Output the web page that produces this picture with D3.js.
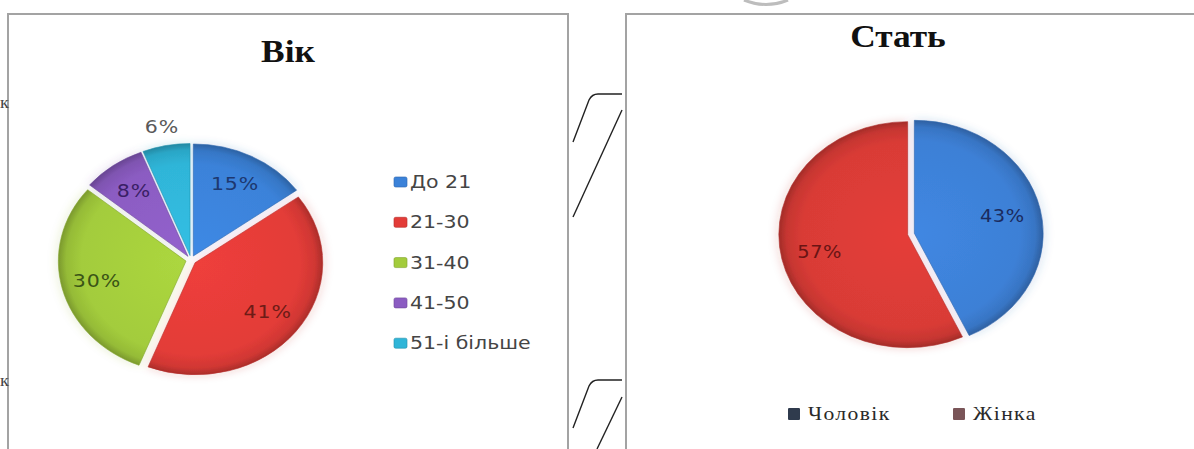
<!DOCTYPE html>
<html>
<head>
<meta charset="utf-8">
<script src="https://cdn.jsdelivr.net/npm/d3@7"></script>
<style>
  html, body { margin: 0; padding: 0; background: #fff; overflow: hidden; }
</style>
</head>
<body>
<svg id="chart"></svg>
<script>
// ---- data ----
const ageTitle = "Вік";
const ageCategories = ["До 21", "21-30", "31-40", "41-50", "51-і більше"];
const ageValues = [15, 41, 30, 8, 6];
const ageColors = ["#3b82d9", "#e33c38", "#a3cc3c", "#8b5cc2", "#2fb5d8"];
const ageLabelColors = ["#1d3870", "#6e1b16", "#3a5416", "#3a1f66", "#5a5a5a"];

const sexTitle = "Стать";
const sexCategories = ["Чоловік", "Жінка"];
const sexValues = [43, 57];
const sexColors = ["#3d80d6", "#d93b36"];
const sexLabelColors = ["#1b2b5e", "#6a1414"];
const sexLegendColors = ["#2f3b4d", "#7a5558"];

// ---- canvas (content is drawn slightly widened horizontally) ----
const W = 1194, H = 449, SX = 1.14;
const X = x => x / SX;
const svg = d3.select("#chart")
  .attr("width", W).attr("height", H)
  .attr("viewBox", `0 0 ${W / SX} ${H}`)
  .attr("preserveAspectRatio", "none");
const defs = svg.append("defs");

// soft glow under the pies
const glow = defs.append("filter").attr("id", "glow")
  .attr("x", "-20%").attr("y", "-20%").attr("width", "140%").attr("height", "140%");
glow.append("feGaussianBlur").attr("in", "SourceGraphic").attr("stdDeviation", 5).attr("result", "b");
glow.append("feComponentTransfer").attr("in", "b").attr("result", "bf")
  .append("feFuncA").attr("type", "linear").attr("slope", 0.22);
const gm = glow.append("feMerge");
gm.append("feMergeNode").attr("in", "bf");
gm.append("feMergeNode").attr("in", "SourceGraphic");

const soft = defs.append("filter").attr("id", "soft");
soft.append("feGaussianBlur").attr("stdDeviation", 0.5);

// ---- panel frames ----
svg.append("rect").attr("x", X(8)).attr("y", 14).attr("width", X(560)).attr("height", 520)
  .attr("fill", "#fff").attr("stroke", "#a3a3a3").attr("stroke-width", 2)
  .attr("vector-effect", "non-scaling-stroke");
svg.append("rect").attr("x", X(626)).attr("y", 14).attr("width", X(640)).attr("height", 520)
  .attr("fill", "#fff").attr("stroke", "#a3a3a3").attr("stroke-width", 2)
  .attr("vector-effect", "non-scaling-stroke");

// connector strokes between the panels
const connectors = [
  "M573,142 L589,100 Q592,94 598,94 L622,94",
  "M573,217 L622,110",
  "M573,428 L589,386 Q592,380 598,380 L622,380",
  "M597,449 L622,397"
];
const scalePath = p => p.replace(/(-?\d+(?:\.\d+)?),(-?\d+(?:\.\d+)?)/g, (m, a, b) => `${X(+a)},${b}`);
connectors.forEach(p => svg.append("path").attr("d", scalePath(p))
  .attr("fill", "none").attr("stroke", "#222").attr("stroke-width", 1.4)
  .attr("vector-effect", "non-scaling-stroke"));
svg.append("path").attr("d", scalePath("M744,0 Q766,9 788,0"))
  .attr("fill", "none").attr("stroke", "#bdbdbd").attr("stroke-width", 3)
  .attr("vector-effect", "non-scaling-stroke");

// fragments of neighbouring text at the left edge
[108, 386].forEach(y => svg.append("text").attr("x", 0).attr("y", y)
  .attr("font-family", "Liberation Serif").attr("font-size", 16).attr("fill", "#444").text("к"));

// ---- pie helper ----
function drawPie(cfg) {
  const g = svg.append("g").attr("transform", `translate(${X(cfg.cx)},${cfg.cy})`)
    .attr("filter", "url(#glow)");
  const arcs = d3.pie().sort(null).value(d => d)(cfg.values);
  const arc = d3.arc().innerRadius(0).outerRadius(cfg.r);
  const slices = g.selectAll("g.slice").data(arcs).join("g")
    .attr("class", "slice")
    .attr("transform", d => {
      const m = (d.startAngle + d.endAngle) / 2;
      return `translate(${Math.sin(m) * cfg.explode},${-Math.cos(m) * cfg.explode})`;
    });
  slices.each(function (d, i) {
    const c = d3.color(cfg.colors[i]);
    const id = `grad-${cfg.id}-${i}`;
    const rg = defs.append("radialGradient").attr("id", id)
      .attr("gradientUnits", "userSpaceOnUse").attr("cx", 0).attr("cy", 0).attr("r", cfg.r);
    rg.append("stop").attr("offset", 0).attr("stop-color", c.brighter(0.15));
    rg.append("stop").attr("offset", 0.82).attr("stop-color", c);
    rg.append("stop").attr("offset", 0.94).attr("stop-color", c.darker(0.25));
    rg.append("stop").attr("offset", 1).attr("stop-color", c.darker(0.8));
    d3.select(this).append("path").attr("d", arc(d))
      .attr("fill", `url(#${id})`)
      .attr("stroke", c.darker(0.6)).attr("stroke-width", 0.8)
      .attr("stroke-opacity", 0.7)
      .attr("filter", "url(#soft)");
  });
  // value labels
  const lg = svg.append("g").attr("transform", `translate(${X(cfg.cx)},${cfg.cy})`);
  arcs.forEach((d, i) => {
    const m = (d.startAngle + d.endAngle) / 2;
    const outside = d.data < cfg.outsideBelow;
    const k = outside ? cfg.outerK : cfg.innerK;
    const px = Math.sin(m) * (cfg.r * k + cfg.explode);
    const py = -Math.cos(m) * (cfg.r * k + cfg.explode);
    lg.append("text").attr("x", px).attr("y", py)
      .attr("text-anchor", "middle").attr("dominant-baseline", "central")
      .attr("font-family", "DejaVu Sans, Verdana, sans-serif")
      .attr("font-size", cfg.labelSize).attr("letter-spacing", cfg.labelSpacing)
      .attr("fill", cfg.labelColors[i])
      .text(d.data + "%");
  });
}

// ---- age chart ----
svg.append("text").attr("x", X(288)).attr("y", 62).attr("text-anchor", "middle")
  .attr("font-family", "Liberation Serif, Times New Roman, serif").attr("font-weight", "bold")
  .attr("font-size", 31).attr("fill", "#111").text(ageTitle);

drawPie({
  id: "age", cx: 191, cy: 260, r: 112, explode: 4.5,
  values: ageValues, colors: ageColors, labelColors: ageLabelColors,
  innerK: 0.72, outerK: 1.17, outsideBelow: 7, labelSize: 18, labelSpacing: 0.8
});

const ageLegend = svg.append("g");
ageCategories.forEach((c, i) => {
  const y = 182 + i * 40.3;
  ageLegend.append("rect").attr("x", X(394)).attr("y", y - 5).attr("width", X(13)).attr("height", 10)
    .attr("rx", 1.5).attr("fill", ageColors[i]).attr("stroke", d3.color(ageColors[i]).darker(0.6))
    .attr("stroke-width", 0.6);
  ageLegend.append("text").attr("x", X(410)).attr("y", y).attr("dominant-baseline", "central")
    .attr("font-family", "DejaVu Sans, Verdana, sans-serif").attr("font-size", 18)
    .attr("fill", "#454545").text(c);
});

// ---- sex chart ----
svg.append("text").attr("x", X(898)).attr("y", 47).attr("text-anchor", "middle")
  .attr("font-family", "Liberation Serif, Times New Roman, serif").attr("font-weight", "bold")
  .attr("font-size", 31).attr("fill", "#111").text(sexTitle);

drawPie({
  id: "sex", cx: 911, cy: 234, r: 113, explode: 3,
  values: sexValues, colors: sexColors, labelColors: sexLabelColors,
  innerK: 0.70, outerK: 1.2, outsideBelow: 0, labelSize: 17, labelSpacing: 0.5
});

const sexLegend = svg.append("g");
const sexLegendX = [788, 953];
sexCategories.forEach((c, i) => {
  sexLegend.append("rect").attr("x", X(sexLegendX[i])).attr("y", 408).attr("width", X(12)).attr("height", 12)
    .attr("rx", 1).attr("fill", sexLegendColors[i]);
  sexLegend.append("text").attr("x", X(sexLegendX[i] + 20)).attr("y", 420)
    .attr("font-family", "Liberation Serif, Times New Roman, serif").attr("font-size", 19)
    .attr("letter-spacing", 1.2).attr("fill", "#2a2a2a").text(c);
});
</script>
</body>
</html>
